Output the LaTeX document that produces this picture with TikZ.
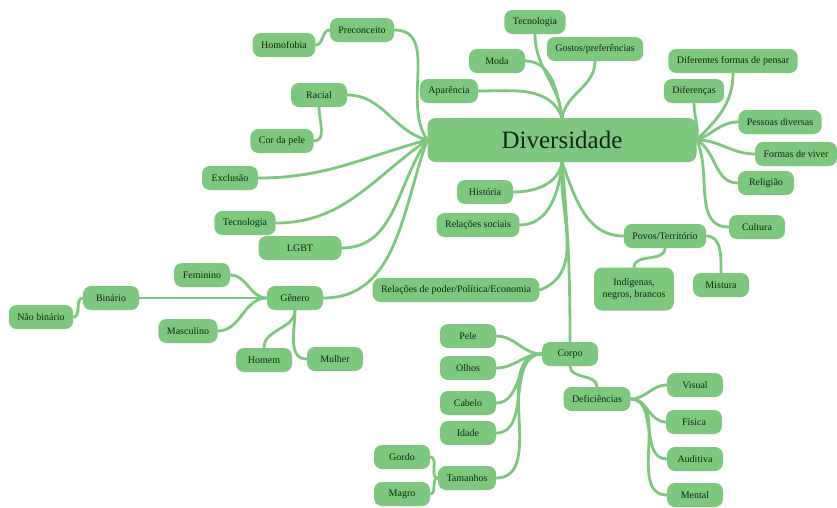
\documentclass[tikz,border=0pt]{standalone}
\usepackage{fontspec}
\setmainfont{Liberation Serif}
\usepackage{xcolor}
\usetikzlibrary{backgrounds}
\definecolor{mapgreen}{RGB}{125,199,126}
\definecolor{mapink}{RGB}{20,38,22}
\tikzset{
    idea/.style={rectangle, fill=mapgreen, rounded corners=8pt, text=mapink, font=\fontsize{10}{11.5}\selectfont, minimum width=56pt, minimum height=24pt, inner xsep=8.5pt},
    topic/.style={idea, font=\fontsize{25}{28}\selectfont, minimum width=269pt, minimum height=44pt},
    branch/.style={draw=mapgreen, line width=2.8pt, line cap=round}
}

\begin{document}
\begin{tikzpicture}[x=1pt, y=1pt]
\useasboundingbox (0,0) rectangle (837,-507);

% Central topic
\node[topic] (main) at (562,-140) {Diversidade};

% Left side
\node[idea] (preconceito) at (362,-30) {Preconceito};
\node[idea] (homofobia) at (284,-45) {Homofobia};
\node[idea] (racial) at (319,-95) {Racial};
\node[idea] (corpele) at (282,-141) {Cor da pele};
\node[idea] (exclusao) at (230,-178) {Exclusão};
\node[idea] (tecleft) at (245,-223) {Tecnologia};
\node[idea, minimum width=83pt] (lgbt) at (300,-248) {LGBT};

% Gender
\node[idea] (genero) at (295,-298) {Gênero};
\node[idea] (feminino) at (202,-275) {Feminino};
\node[idea] (binario) at (111,-298) {Binário};
\node[idea] (naobinario) at (41,-317) {Não binário};
\node[idea] (masculino) at (188,-331) {Masculino};
\node[idea] (homem) at (264,-360) {Homem};
\node[idea] (mulher) at (335,-359) {Mulher};

% Top
\node[idea] (aparencia) at (449,-91) {Aparência};
\node[idea] (moda) at (497,-61) {Moda};
\node[idea] (tectop) at (535,-22) {Tecnologia};
\node[idea] (gostos) at (595,-49) {Gostos/preferências};

% Right side
\node[idea] (pensar) at (733,-61) {Diferentes formas de pensar};
\node[idea] (diferencas) at (694,-91) {Diferenças};
\node[idea] (pessoas) at (780,-122) {Pessoas diversas};
\node[idea] (viver) at (796,-154) {Formas de viver};
\node[idea] (religiao) at (766,-183) {Religião};
\node[idea] (cultura) at (757,-227) {Cultura};

% Bottom
\node[idea] (historia) at (485,-192) {História};
\node[idea] (relsociais) at (478,-225) {Relações sociais};
\node[idea] (relpoder) at (456,-290) {Relações de poder/Política/Economia};
\node[idea] (povos) at (665,-236) {Povos/Território};
\node[idea, align=center, minimum height=43pt, minimum width=76pt] (indigenas) at (634,-289) {Indígenas,\\negros, brancos};
\node[idea] (mistura) at (721,-285) {Mistura};

% Body
\node[idea] (corpo) at (570,-354) {Corpo};
\node[idea] (pele) at (468,-336) {Pele};
\node[idea] (olhos) at (468,-368) {Olhos};
\node[idea] (cabelo) at (468,-403) {Cabelo};
\node[idea] (idade) at (468,-433) {Idade};
\node[idea] (tamanhos) at (467,-478) {Tamanhos};
\node[idea] (gordo) at (402,-457) {Gordo};
\node[idea] (magro) at (402,-494) {Magro};
\node[idea] (deficiencias) at (597,-399) {Deficiências};
\node[idea] (visual) at (695,-385) {Visual};
\node[idea] (fisica) at (694,-422) {Física};
\node[idea] (auditiva) at (695,-459) {Auditiva};
\node[idea] (mental) at (695,-495) {Mental};

\begin{scope}[on background layer]
% Branches to the left
\draw[branch] (preconceito.east) to[out=0, in=125] (main.west);
\draw[branch] (racial.east) to[out=0, in=165] (main.west);
\draw[branch] (exclusao.east) to[out=0, in=195] (main.west);
\draw[branch] (tecleft.east) to[out=0, in=215] (main.west);
\draw[branch] (lgbt.east) to[out=0, in=235] (main.west);
\draw[branch] (genero.east) to[out=0, in=250] (main.west);
\draw[branch] (preconceito.west) to[out=180, in=0] (homofobia.east);
\draw[branch] (racial.south) to[out=270, in=0] (corpele.east);

% Gender
\foreach \n in {feminino, binario, masculino}
    \draw[branch] (genero.west) to[out=180, in=0] (\n.east);
\draw[branch] (genero.south) to[out=270, in=90] (homem.north);
\draw[branch] (genero.south) to[out=270, in=180] (mulher.west);
\draw[branch] (binario.west) to[out=180, in=0] (naobinario.east);

% Top
\draw[branch] (aparencia.east) to[out=0, in=110] (main.north);
\draw[branch] (moda.east) to[out=0, in=100] (main.north);
\draw[branch] (tectop.south) to[out=270, in=95] (main.north);
\draw[branch] (gostos.south) to[out=270, in=80] (main.north);

% Right
\draw[branch] (pensar.south) to[out=270, in=45] (main.east);
\draw[branch] (diferencas.south) to[out=270, in=80] (main.east);
\draw[branch] (pessoas.west) to[out=180, in=20] (main.east);
\draw[branch] (viver.west) to[out=180, in=0] (main.east);
\draw[branch] (religiao.west) to[out=180, in=-30] (main.east);
\draw[branch] (cultura.west) to[out=180, in=-65] (main.east);

% Bottom
\draw[branch] (historia.east) to[out=0, in=260] (main.south);
\draw[branch] (relsociais.east) to[out=0, in=265] (main.south);
\draw[branch] (relpoder.east) to[out=20, in=265] (main.south);
\draw[branch] (corpo.north) to[out=90, in=275] (main.south);
\draw[branch] (povos.west) to[out=180, in=290] (main.south);
\draw[branch] (povos.south) to[out=270, in=90] (indigenas.north);
\draw[branch] (povos.east) to[out=0, in=90] (mistura.north);

% Body
\foreach \n in {pele, olhos, cabelo, idade, tamanhos}
    \draw[branch] (corpo.west) to[out=180, in=0] (\n.east);
\foreach \n in {gordo, magro}
    \draw[branch] (tamanhos.west) to[out=180, in=0] (\n.east);
\draw[branch] (corpo.south) to[out=270, in=90] (deficiencias.north);
\foreach \n in {visual, fisica, auditiva, mental}
    \draw[branch] (deficiencias.east) to[out=0, in=180] (\n.west);
\end{scope}
\end{tikzpicture}
\end{document}
